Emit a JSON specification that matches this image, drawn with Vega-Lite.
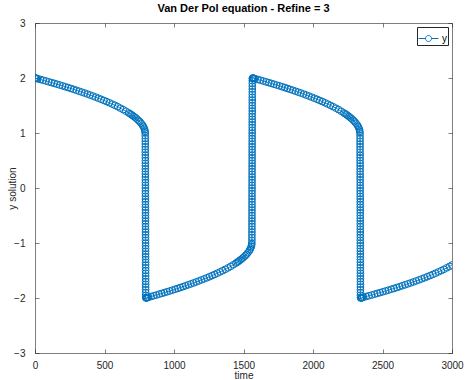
{
  "$schema": "https://vega.github.io/schema/vega-lite/v6.json",
  "width": 417,
  "height": 330,
  "autosize": "none",
  "padding": {"left": 35, "top": 23, "right": 13, "bottom": 27},
  "background": "white",
  "title": {"text": "Van Der Pol equation - Refine = 3", "fontSize": 11, "fontWeight": "bold", "font": "Liberation Sans", "color": "#000000", "anchor": "middle", "offset": 4},
  "data": {"values": [
    {"t":0,"y":2.0},{"t":4,"y":1.997},{"t":8,"y":1.995},{"t":12,"y":1.992},{"t":19.8,"y":1.986},{"t":39.7,"y":1.973},{"t":59.5,"y":1.959},{"t":79.3,"y":1.945},{"t":99.1,"y":1.93},{"t":119,"y":1.916},{"t":138.8,"y":1.902},{"t":158.6,"y":1.887},{"t":178.4,"y":1.872},{"t":198.3,"y":1.857},{"t":218.1,"y":1.841},{"t":237.9,"y":1.826},{"t":257.7,"y":1.81},{"t":277.6,"y":1.794},{"t":297.4,"y":1.777},{"t":317.2,"y":1.76},{"t":337,"y":1.743},{"t":356.9,"y":1.726},{"t":376.7,"y":1.708},{"t":396.5,"y":1.69},{"t":416.3,"y":1.671},{"t":436.2,"y":1.652},{"t":456,"y":1.633},{"t":475.8,"y":1.613},{"t":495.6,"y":1.592},{"t":515.5,"y":1.571},{"t":535.3,"y":1.549},{"t":555.1,"y":1.526},{"t":574.9,"y":1.503},{"t":594.8,"y":1.478},{"t":614.6,"y":1.452},{"t":634.4,"y":1.425},{"t":654.2,"y":1.396},{"t":674.1,"y":1.365},{"t":684,"y":1.35},{"t":693.9,"y":1.332},{"t":703.8,"y":1.314},{"t":713.7,"y":1.296},{"t":723.6,"y":1.275},{"t":733.5,"y":1.255},{"t":743.4,"y":1.231},{"t":753.4,"y":1.207},{"t":763.3,"y":1.177},{"t":773.2,"y":1.145},{"t":779.1,"y":1.119},{"t":785.1,"y":1.089},{"t":789,"y":1.061},{"t":791.8,"y":1.03},{"t":793,"y":1.0},
    {"t":793.5,"y":0.95},{"t":793.55,"y":0.9},{"t":793.6,"y":0.85},{"t":793.65,"y":0.8},{"t":793.7,"y":0.75},{"t":793.75,"y":0.7},{"t":793.8,"y":0.65},{"t":793.85,"y":0.6},{"t":793.9,"y":0.55},{"t":793.95,"y":0.5},{"t":794,"y":0.45},{"t":794.05,"y":0.4},{"t":794.1,"y":0.35},{"t":794.15,"y":0.3},{"t":794.2,"y":0.25},{"t":794.25,"y":0.2},{"t":794.3,"y":0.15},{"t":794.35,"y":0.1},{"t":794.4,"y":0.05},{"t":794.45,"y":0},{"t":794.5,"y":-0.05},{"t":794.55,"y":-0.1},{"t":794.6,"y":-0.15},{"t":794.65,"y":-0.2},{"t":794.7,"y":-0.25},{"t":794.75,"y":-0.3},{"t":794.8,"y":-0.35},{"t":794.85,"y":-0.4},{"t":794.9,"y":-0.45},{"t":794.95,"y":-0.5},{"t":795,"y":-0.55},{"t":795.05,"y":-0.6},{"t":795.1,"y":-0.65},{"t":795.15,"y":-0.7},{"t":795.2,"y":-0.75},{"t":795.25,"y":-0.8},{"t":795.3,"y":-0.85},{"t":795.35,"y":-0.9},{"t":795.4,"y":-0.95},{"t":795.45,"y":-1},{"t":795.5,"y":-1.05},{"t":795.55,"y":-1.1},{"t":795.6,"y":-1.15},{"t":795.65,"y":-1.2},{"t":795.7,"y":-1.25},{"t":795.75,"y":-1.3},{"t":795.8,"y":-1.35},{"t":795.85,"y":-1.4},{"t":795.9,"y":-1.45},{"t":795.95,"y":-1.5},{"t":796,"y":-1.55},{"t":796.05,"y":-1.6},{"t":796.1,"y":-1.65},{"t":796.15,"y":-1.7},{"t":796.2,"y":-1.75},{"t":796.25,"y":-1.8},{"t":796.3,"y":-1.85},{"t":796.35,"y":-1.9},{"t":796.4,"y":-1.95},{"t":797,"y":-1.99},
    {"t":798,"y":-2.0},{"t":801.8,"y":-1.997},{"t":805.6,"y":-1.995},{"t":809.4,"y":-1.992},{"t":817.1,"y":-1.986},{"t":836.1,"y":-1.973},{"t":855.2,"y":-1.959},{"t":874.2,"y":-1.945},{"t":893.3,"y":-1.93},{"t":912.3,"y":-1.916},{"t":931.4,"y":-1.902},{"t":950.4,"y":-1.887},{"t":969.5,"y":-1.872},{"t":988.5,"y":-1.857},{"t":1007.6,"y":-1.841},{"t":1026.6,"y":-1.826},{"t":1045.7,"y":-1.81},{"t":1064.7,"y":-1.794},{"t":1083.8,"y":-1.777},{"t":1102.8,"y":-1.76},{"t":1121.9,"y":-1.743},{"t":1140.9,"y":-1.726},{"t":1160,"y":-1.708},{"t":1179,"y":-1.69},{"t":1198.1,"y":-1.671},{"t":1217.1,"y":-1.652},{"t":1236.2,"y":-1.633},{"t":1255.2,"y":-1.613},{"t":1274.3,"y":-1.592},{"t":1293.3,"y":-1.571},{"t":1312.4,"y":-1.549},{"t":1331.4,"y":-1.526},{"t":1350.5,"y":-1.503},{"t":1369.5,"y":-1.478},{"t":1388.6,"y":-1.452},{"t":1407.6,"y":-1.425},{"t":1426.7,"y":-1.396},{"t":1445.7,"y":-1.365},{"t":1455.2,"y":-1.35},{"t":1464.8,"y":-1.332},{"t":1474.3,"y":-1.314},{"t":1483.8,"y":-1.296},{"t":1493.3,"y":-1.275},{"t":1502.9,"y":-1.255},{"t":1512.4,"y":-1.231},{"t":1521.9,"y":-1.207},{"t":1531.4,"y":-1.177},{"t":1541,"y":-1.145},{"t":1546.7,"y":-1.119},{"t":1552.4,"y":-1.089},{"t":1556.2,"y":-1.061},{"t":1558.9,"y":-1.03},{"t":1560,"y":-1.0},
    {"t":1560.5,"y":-0.95},{"t":1560.55,"y":-0.9},{"t":1560.6,"y":-0.85},{"t":1560.65,"y":-0.8},{"t":1560.7,"y":-0.75},{"t":1560.75,"y":-0.7},{"t":1560.8,"y":-0.65},{"t":1560.85,"y":-0.6},{"t":1560.9,"y":-0.55},{"t":1560.95,"y":-0.5},{"t":1561,"y":-0.45},{"t":1561.05,"y":-0.4},{"t":1561.1,"y":-0.35},{"t":1561.15,"y":-0.3},{"t":1561.2,"y":-0.25},{"t":1561.25,"y":-0.2},{"t":1561.3,"y":-0.15},{"t":1561.35,"y":-0.1},{"t":1561.4,"y":-0.05},{"t":1561.45,"y":0},{"t":1561.5,"y":0.05},{"t":1561.55,"y":0.1},{"t":1561.6,"y":0.15},{"t":1561.65,"y":0.2},{"t":1561.7,"y":0.25},{"t":1561.75,"y":0.3},{"t":1561.8,"y":0.35},{"t":1561.85,"y":0.4},{"t":1561.9,"y":0.45},{"t":1561.95,"y":0.5},{"t":1562,"y":0.55},{"t":1562.05,"y":0.6},{"t":1562.1,"y":0.65},{"t":1562.15,"y":0.7},{"t":1562.2,"y":0.75},{"t":1562.25,"y":0.8},{"t":1562.3,"y":0.85},{"t":1562.35,"y":0.9},{"t":1562.4,"y":0.95},{"t":1562.45,"y":1},{"t":1562.5,"y":1.05},{"t":1562.55,"y":1.1},{"t":1562.6,"y":1.15},{"t":1562.65,"y":1.2},{"t":1562.7,"y":1.25},{"t":1562.75,"y":1.3},{"t":1562.8,"y":1.35},{"t":1562.85,"y":1.4},{"t":1562.9,"y":1.45},{"t":1562.95,"y":1.5},{"t":1563,"y":1.55},{"t":1563.05,"y":1.6},{"t":1563.1,"y":1.65},{"t":1563.15,"y":1.7},{"t":1563.2,"y":1.75},{"t":1563.25,"y":1.8},{"t":1563.3,"y":1.85},{"t":1563.35,"y":1.9},{"t":1563.4,"y":1.95},{"t":1564,"y":1.99},
    {"t":1565,"y":2.0},{"t":1568.9,"y":1.997},{"t":1572.7,"y":1.995},{"t":1576.6,"y":1.992},{"t":1584.3,"y":1.986},{"t":1603.7,"y":1.973},{"t":1623,"y":1.959},{"t":1642.3,"y":1.945},{"t":1661.6,"y":1.93},{"t":1681,"y":1.916},{"t":1700.3,"y":1.902},{"t":1719.6,"y":1.887},{"t":1738.9,"y":1.872},{"t":1758.3,"y":1.857},{"t":1777.6,"y":1.841},{"t":1796.9,"y":1.826},{"t":1816.2,"y":1.81},{"t":1835.6,"y":1.794},{"t":1854.9,"y":1.777},{"t":1874.2,"y":1.76},{"t":1893.5,"y":1.743},{"t":1912.9,"y":1.726},{"t":1932.2,"y":1.708},{"t":1951.5,"y":1.69},{"t":1970.8,"y":1.671},{"t":1990.2,"y":1.652},{"t":2009.5,"y":1.633},{"t":2028.8,"y":1.613},{"t":2048.1,"y":1.592},{"t":2067.5,"y":1.571},{"t":2086.8,"y":1.549},{"t":2106.1,"y":1.526},{"t":2125.4,"y":1.503},{"t":2144.8,"y":1.478},{"t":2164.1,"y":1.452},{"t":2183.4,"y":1.425},{"t":2202.7,"y":1.396},{"t":2222.1,"y":1.365},{"t":2231.7,"y":1.35},{"t":2241.4,"y":1.332},{"t":2251,"y":1.314},{"t":2260.7,"y":1.296},{"t":2270.4,"y":1.275},{"t":2280,"y":1.255},{"t":2289.7,"y":1.231},{"t":2299.4,"y":1.207},{"t":2309,"y":1.177},{"t":2318.7,"y":1.145},{"t":2324.5,"y":1.119},{"t":2330.3,"y":1.089},{"t":2334.1,"y":1.061},{"t":2336.8,"y":1.03},{"t":2338,"y":1.0},
    {"t":2338.5,"y":0.95},{"t":2338.55,"y":0.9},{"t":2338.6,"y":0.85},{"t":2338.65,"y":0.8},{"t":2338.7,"y":0.75},{"t":2338.75,"y":0.7},{"t":2338.8,"y":0.65},{"t":2338.85,"y":0.6},{"t":2338.9,"y":0.55},{"t":2338.95,"y":0.5},{"t":2339,"y":0.45},{"t":2339.05,"y":0.4},{"t":2339.1,"y":0.35},{"t":2339.15,"y":0.3},{"t":2339.2,"y":0.25},{"t":2339.25,"y":0.2},{"t":2339.3,"y":0.15},{"t":2339.35,"y":0.1},{"t":2339.4,"y":0.05},{"t":2339.45,"y":0},{"t":2339.5,"y":-0.05},{"t":2339.55,"y":-0.1},{"t":2339.6,"y":-0.15},{"t":2339.65,"y":-0.2},{"t":2339.7,"y":-0.25},{"t":2339.75,"y":-0.3},{"t":2339.8,"y":-0.35},{"t":2339.85,"y":-0.4},{"t":2339.9,"y":-0.45},{"t":2339.95,"y":-0.5},{"t":2340,"y":-0.55},{"t":2340.05,"y":-0.6},{"t":2340.1,"y":-0.65},{"t":2340.15,"y":-0.7},{"t":2340.2,"y":-0.75},{"t":2340.25,"y":-0.8},{"t":2340.3,"y":-0.85},{"t":2340.35,"y":-0.9},{"t":2340.4,"y":-0.95},{"t":2340.45,"y":-1},{"t":2340.5,"y":-1.05},{"t":2340.55,"y":-1.1},{"t":2340.6,"y":-1.15},{"t":2340.65,"y":-1.2},{"t":2340.7,"y":-1.25},{"t":2340.75,"y":-1.3},{"t":2340.8,"y":-1.35},{"t":2340.85,"y":-1.4},{"t":2340.9,"y":-1.45},{"t":2340.95,"y":-1.5},{"t":2341,"y":-1.55},{"t":2341.05,"y":-1.6},{"t":2341.1,"y":-1.65},{"t":2341.15,"y":-1.7},{"t":2341.2,"y":-1.75},{"t":2341.25,"y":-1.8},{"t":2341.3,"y":-1.85},{"t":2341.35,"y":-1.9},{"t":2341.4,"y":-1.95},{"t":2342,"y":-1.99},
    {"t":2343,"y":-2.0},{"t":2347,"y":-1.997},{"t":2351,"y":-1.995},{"t":2355,"y":-1.992},{"t":2363,"y":-1.986},{"t":2383,"y":-1.973},{"t":2402.9,"y":-1.959},{"t":2422.9,"y":-1.945},{"t":2442.9,"y":-1.93},{"t":2462.9,"y":-1.916},{"t":2482.8,"y":-1.902},{"t":2502.8,"y":-1.887},{"t":2522.8,"y":-1.872},{"t":2542.8,"y":-1.857},{"t":2562.7,"y":-1.841},{"t":2582.7,"y":-1.826},{"t":2602.7,"y":-1.81},{"t":2622.7,"y":-1.794},{"t":2642.6,"y":-1.777},{"t":2662.6,"y":-1.76},{"t":2682.6,"y":-1.743},{"t":2702.6,"y":-1.726},{"t":2722.5,"y":-1.708},{"t":2742.5,"y":-1.69},{"t":2762.5,"y":-1.671},{"t":2782.5,"y":-1.652},{"t":2802.4,"y":-1.633},{"t":2822.4,"y":-1.613},{"t":2842.4,"y":-1.592},{"t":2862.4,"y":-1.571},{"t":2882.3,"y":-1.549},{"t":2902.3,"y":-1.526},{"t":2922.3,"y":-1.503},{"t":2942.3,"y":-1.478},{"t":2962.2,"y":-1.452},{"t":2982.2,"y":-1.425},{"t":3000,"y":-1.4}
  ]},
  "layer": [
    {
      "mark": {"type": "line", "strokeWidth": 0.8, "clip": true, "point": {"filled": false, "size": 45, "strokeWidth": 1}},
      "encoding": {
        "x": {"field": "t", "type": "quantitative", "scale": {"domain": [0, 3000], "nice": false},
              "axis": {"orient": "bottom", "values": [0, 500, 1000, 1500, 2000, 2500, 3000], "format": "d", "title": "time", "labelPadding": 11, "titlePadding": 0, "labelFlush": false, "labelOverlap": false}},
        "y": {"field": "y", "type": "quantitative", "scale": {"domain": [-3, 3], "nice": false, "zero": false},
              "axis": {"orient": "left", "values": [-3, -2, -1, 0, 1, 2, 3], "format": "d", "title": "y solution", "labelPadding": 14, "titlePadding": -4, "labelFlush": false, "labelOverlap": false}},
        "color": {"datum": "y", "scale": {"range": ["#0072BD"]},
                  "legend": {"title": null, "orient": "none", "legendX": 382, "legendY": 4, "strokeColor": "#262626", "fillColor": "white", "padding": 1,
                             "symbolType": "M-1,0L-0.3,0M0.3,0L1,0M0.3,0A0.3,0.3,0,1,1,-0.3,0A0.3,0.3,0,1,1,0.3,0",
                             "symbolSize": 400, "symbolStrokeWidth": 1, "symbolFillColor": "transparent", "symbolStrokeColor": "#0072BD",
                             "labelFontSize": 10, "labelColor": "#000000", "labelOffset": 3}}
      }
    },
    {
      "mark": {"type": "point", "opacity": 0},
      "encoding": {
        "x": {"field": "t", "type": "quantitative", "axis": {"orient": "top", "values": [0, 500, 1000, 1500, 2000, 2500, 3000], "labels": false, "title": null}},
        "y": {"field": "y", "type": "quantitative", "axis": {"orient": "right", "values": [-3, -2, -1, 0, 1, 2, 3], "labels": false, "title": null}}
      }
    }
  ],
  "resolve": {"axis": {"x": "independent", "y": "independent"}},
  "config": {
    "view": {"stroke": null},
    "font": "Liberation Sans",
    "axis": {"grid": false, "domainColor": "#262626", "domainWidth": 0.6, "tickColor": "#262626", "tickWidth": 0.6, "tickSize": -4,
             "labelColor": "#262626", "labelFontSize": 10, "titleColor": "#262626", "titleFontSize": 10, "titleFontWeight": "normal", "labelFont": "Liberation Sans", "titleFont": "Liberation Sans"}
  }
}
